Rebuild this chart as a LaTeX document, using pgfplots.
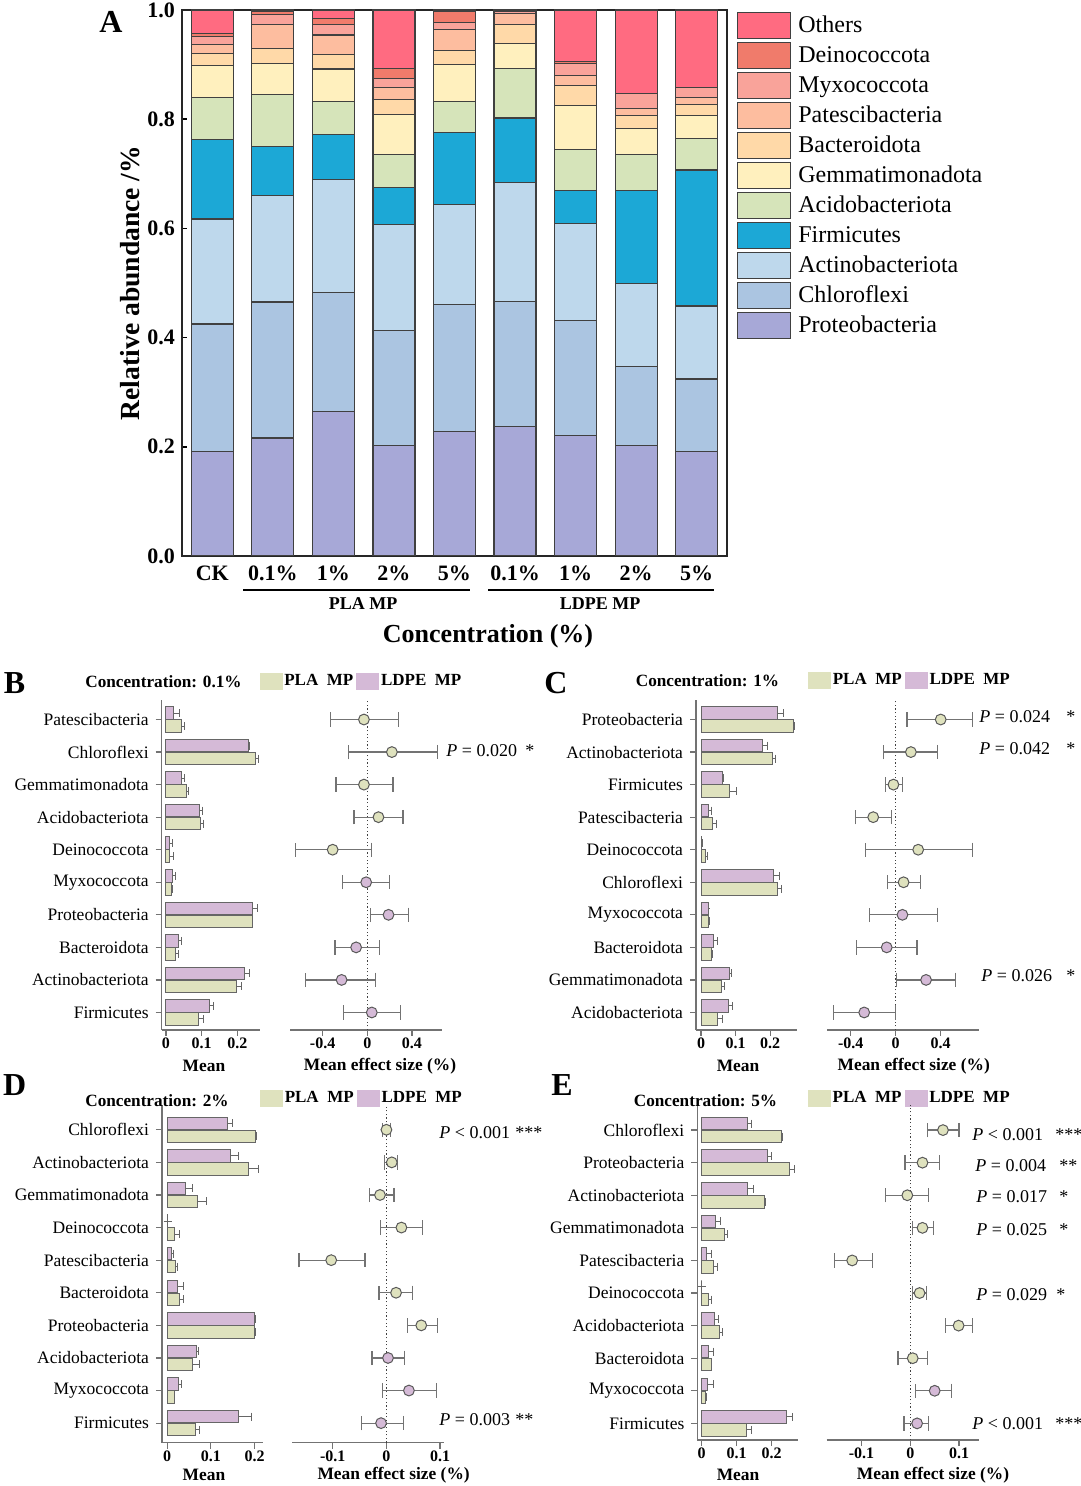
\documentclass[border=0pt]{standalone}
\usepackage{fontspec}
\setmainfont{Liberation Serif}
\usepackage{pgfplots}
\usepackage{pgfplotstable}
\pgfplotsset{compat=1.18}

\definecolor{cOth}{HTML}{FF6B81}
\definecolor{cDei}{HTML}{F07B6B}
\definecolor{cMyx}{HTML}{F9A39A}
\definecolor{cPat}{HTML}{FDBD9F}
\definecolor{cBac}{HTML}{FFD9A8}
\definecolor{cGem}{HTML}{FFF0BE}
\definecolor{cAci}{HTML}{D6E4BA}
\definecolor{cFir}{HTML}{1CA8D6}
\definecolor{cAct}{HTML}{BED8EC}
\definecolor{cChl}{HTML}{ABC5E1}
\definecolor{cPro}{HTML}{A7A8D7}
\definecolor{plaC}{HTML}{DFE2BE}
\definecolor{ldpeC}{HTML}{D5BAD7}

\newcommand{\fs}[1]{\fontsize{#1}{#1}\selectfont}

% ---------------- Panel A data ----------------
\pgfplotstableread{
x pro chl act fir aci gem bac pat myx dei oth
0 0.192 0.233 0.192 0.146 0.077 0.059 0.022 0.016 0.014 0.006 0.043
1 0.216 0.249 0.195 0.090 0.095 0.057 0.027 0.045 0.017 0.007 0.002
2 0.264 0.218 0.207 0.083 0.061 0.059 0.027 0.035 0.020 0.011 0.015
3 0.203 0.210 0.194 0.068 0.060 0.073 0.028 0.022 0.016 0.019 0.107
4 0.228 0.232 0.183 0.132 0.057 0.068 0.026 0.038 0.013 0.020 0.003
5 0.237 0.229 0.218 0.118 0.091 0.045 0.036 0.020 0.003 0.001 0.002
6 0.221 0.211 0.177 0.060 0.076 0.080 0.036 0.019 0.022 0.003 0.095
7 0.203 0.144 0.152 0.170 0.067 0.047 0.024 0.012 0.028 0.000 0.153
8 0.191 0.133 0.134 0.249 0.057 0.043 0.020 0.013 0.018 0.000 0.142
}\dataA

% ---------------- Panel B ----------------
\pgfplotstableread{
y pla pe ldpe le
9 0.043 0.010 0.020 0.017
8 0.251 0.009 0.232 0.003
7 0.056 0.008 0.043 0.010
6 0.096 0.009 0.093 0.010
5 0.010 0.010 0.010 0.009
4 0.016 0.002 0.018 0.010
3 0.241 0.001 0.241 0.014
2 0.028 0.006 0.034 0.010
1 0.198 0.014 0.220 0.015
0 0.091 0.014 0.121 0.012
}\Bbar
\pgfplotstableread{
x y em ep
-0.03 9 0.30 0.31
0.22 8 0.39 0.41
-0.03 7 0.25 0.26
0.10 6 0.22 0.22
-0.31 5 0.33 0.35
}\BeG
\pgfplotstableread{
x y em ep
-0.01 4 0.21 0.21
0.19 3 0.16 0.18
-0.10 2 0.19 0.21
-0.23 1 0.32 0.30
0.04 0 0.25 0.26
}\BeP

% ---------------- Panel C ----------------
\pgfplotstableread{
y pla pe ldpe le
9 0.268 0.004 0.221 0.017
8 0.206 0.011 0.179 0.012
7 0.083 0.020 0.063 0.002
6 0.032 0.012 0.022 0.007
5 0.012 0.006 0.002 0.001
4 0.220 0.013 0.211 0.016
3 0.021 0.004 0.022 0.001
2 0.029 0.003 0.035 0.013
1 0.060 0.008 0.081 0.007
0 0.049 0.014 0.079 0.011
}\Cbar
\pgfplotstableread{
x y em ep
0.40 9 0.30 0.28
0.135 8 0.245 0.24
-0.02 7 0.07 0.08
-0.20 6 0.16 0.16
0.20 5 0.47 0.48
0.07 4 0.14 0.15
}\CeG
\pgfplotstableread{
x y em ep
0.06 3 0.29 0.31
-0.08 2 0.27 0.27
0.27 1 0.26 0.26
-0.28 0 0.27 0.28
}\CeP

% ---------------- Panel D ----------------
\pgfplotstableread{
y pla pe ldpe le
9 0.202 0.002 0.138 0.012
8 0.187 0.023 0.146 0.017
7 0.069 0.021 0.043 0.014
6 0.017 0.012 0.001 0.000
5 0.020 0.004 0.010 0.005
4 0.028 0.009 0.024 0.013
3 0.201 0.002 0.199 0.002
2 0.058 0.016 0.067 0.005
1 0.016 0.001 0.025 0.008
0 0.066 0.007 0.164 0.029
}\Dbar
\pgfplotstableread{
x y em ep
0.000 9 0.008 0.008
0.010 8 0.013 0.011
-0.012 7 0.020 0.026
0.028 6 0.039 0.040
-0.103 5 0.060 0.063
0.018 4 0.032 0.031
0.065 3 0.026 0.030
}\DeG
\pgfplotstableread{
x y em ep
0.003 2 0.030 0.030
0.042 1 0.050 0.052
-0.010 0 0.036 0.042
}\DeP

% ---------------- Panel E ----------------
\pgfplotstableread{
y pla pe ldpe le
9 0.228 0.003 0.130 0.012
8 0.251 0.014 0.187 0.012
7 0.179 0.003 0.132 0.015
6 0.066 0.008 0.041 0.012
5 0.035 0.010 0.013 0.015
4 0.021 0.007 0.000 0.000
3 0.050 0.010 0.036 0.012
2 0.027 0.001 0.020 0.013
1 0.012 0.001 0.017 0.018
0 0.128 0.014 0.242 0.019
}\Ebar
\pgfplotstableread{
x y em ep
0.067 9 0.032 0.033
0.025 8 0.036 0.035
-0.006 7 0.044 0.043
0.025 6 0.020 0.022
-0.119 5 0.037 0.041
0.019 4 0.015 0.015
0.099 3 0.027 0.029
0.005 2 0.030 0.030
}\EeG
\pgfplotstableread{
x y em ep
0.050 1 0.039 0.035
0.014 0 0.027 0.024
}\EeP

\pgfplotsset{
  myleg/.style={legend image code/.code={\draw[##1,line width=0.5pt] (0pt,-6.5pt) rectangle (26.5pt,6.5pt);}},
  barax/.style={
    scale only axis, xbar, bar width=6.25pt,
    axis x line=bottom, axis y line=left,
    axis line style={-, draw=black!55, line width=0.6pt},
    tick style={draw=black!55, line width=0.6pt},
    tick align=outside, major tick length=3pt,
    ytick={0,...,9},
    xtick={0,0.1,0.2}, xticklabels={0,0.1,0.2},
    yticklabel style={font=\fs{8.75}},
    xticklabel style={font=\bfseries\fs{8}, yshift=2.5pt},
    clip=false,
    legend columns=2, legend cell align=left,
    legend style={draw=none, fill=none, inner sep=0pt, outer sep=0pt, anchor=west,
      font=\bfseries\fs{8.5}, nodes={inner sep=0pt},
      /tikz/every odd column/.style={column sep=1pt},
      /tikz/every even column/.style={column sep=1.5pt}},
  },
  effax/.style={
    scale only axis,
    axis x line=bottom, axis y line=none,
    axis line style={-, draw=black!55, line width=0.6pt},
    tick style={draw=black!55, line width=0.6pt},
    tick align=outside, major tick length=3pt,
    ytick=\empty,
    xticklabel style={font=\bfseries\fs{8}, yshift=2.5pt},
    clip=false,
  },
  plabar/.style={xbar, bar shift=-3.25pt, fill=plaC, draw=black!60, line width=0.5pt,
    error bars/.cd, x dir=plus, x explicit, error mark=|,
    error bar style={draw=black!60, line width=0.5pt},
    error mark options={draw=black!60, mark size=2pt, line width=0.5pt}},
  ldpebar/.style={xbar, bar shift=3.25pt, fill=ldpeC, draw=black!60, line width=0.5pt,
    error bars/.cd, x dir=plus, x explicit, error mark=|,
    error bar style={draw=black!60, line width=0.5pt},
    error mark options={draw=black!60, mark size=2pt, line width=0.5pt}},
  effpt/.style={only marks, mark=*, mark size=2.7pt,
    mark options={fill=#1, draw=black!65, line width=0.5pt},
    error bars/.cd, x dir=both, x explicit, error mark=|,
    error bar style={draw=black!55, line width=0.6pt},
    error mark options={draw=black!55, line width=0.6pt, mark size=3.6pt}},
  zeroline/.style={black!75, dash pattern=on 0.6pt off 1.2pt, line width=0.6pt, forget plot},
}

\newcommand{\legPLA}{%
  \addlegendimage{legend image code/.code={\fill[plaC] (0pt,-4pt) rectangle (11pt,4pt);}}
  \addlegendentry{PLA\hspace{0.5em}MP}
  \addlegendimage{legend image code/.code={\fill[ldpeC] (0pt,-4pt) rectangle (11pt,4pt);}}
  \addlegendentry{LDPE\hspace{0.5em}MP}}

\begin{document}
\begin{tikzpicture}
\useasboundingbox (0,0) rectangle (540pt,743pt);

% ================= Panel A =================
\begin{axis}[
  at={(91pt,465pt)}, anchor=south west,
  scale only axis, width=272.5pt, height=273pt,
  ybar stacked, bar width=21pt,
  xmin=-0.5, xmax=8.5, ymin=0, ymax=1,
  xtick={0,...,8}, xticklabels={CK,0.1\%,1\%,2\%,5\%,0.1\%,1\%,2\%,5\%},
  ytick={0,0.2,0.4,0.6,0.8,1.0}, yticklabels={0.0,0.2,0.4,0.6,0.8,1.0},
  x tick style={draw=none}, ytick pos=left, tick align=inside, major tick length=2.5pt,
  y tick style={black, line width=0.8pt},
  ticklabel style={font=\bfseries\fs{11}},
  xticklabel style={yshift=-1.5pt},
  axis line style={line width=1pt, black!85},
  every axis plot/.append style={draw=black!75, line width=0.6pt},
  reverse legend, legend cell align=left,
  legend style={at={(1,1)}, anchor=north west, xshift=5pt, yshift=-1pt,
    draw=none, fill=none, inner sep=0pt, font=\fs{12}, row sep=1.5pt,
    nodes={inner sep=0pt},
    /tikz/every odd column/.style={column sep=3.5pt}},
]
\addplot[fill=cPro, myleg] table[x=x,y=pro]{\dataA}; \addlegendentry{Proteobacteria}
\addplot[fill=cChl, myleg] table[x=x,y=chl]{\dataA}; \addlegendentry{Chloroflexi}
\addplot[fill=cAct, myleg] table[x=x,y=act]{\dataA}; \addlegendentry{Actinobacteriota}
\addplot[fill=cFir, myleg] table[x=x,y=fir]{\dataA}; \addlegendentry{Firmicutes}
\addplot[fill=cAci, myleg] table[x=x,y=aci]{\dataA}; \addlegendentry{Acidobacteriota}
\addplot[fill=cGem, myleg] table[x=x,y=gem]{\dataA}; \addlegendentry{Gemmatimonadota}
\addplot[fill=cBac, myleg] table[x=x,y=bac]{\dataA}; \addlegendentry{Bacteroidota}
\addplot[fill=cPat, myleg] table[x=x,y=pat]{\dataA}; \addlegendentry{Patescibacteria}
\addplot[fill=cMyx, myleg] table[x=x,y=myx]{\dataA}; \addlegendentry{Myxococcota}
\addplot[fill=cDei, myleg] table[x=x,y=dei]{\dataA}; \addlegendentry{Deinococcota}
\addplot[fill=cOth, myleg] table[x=x,y=oth]{\dataA}; \addlegendentry{Others}
\end{axis}

% ================= Panel B =================
\begin{axis}[barax, at={(80.85pt,228pt)}, anchor=south west,
  width=49.15pt, height=165pt, xmin=-0.012, xmax=0.263, ymin=-0.538, ymax=9.6,
  yticklabels={Firmicutes,Actinobacteriota,Bacteroidota,Proteobacteria,Myxococcota,Deinococcota,Acidobacteriota,Gemmatimonadota,Chloroflexi,Patescibacteria},
  legend style={at={(0.995,1.056)}}]
\legPLA
\addplot[plabar] table[x=pla,y=y,x error=pe]{\Bbar};
\addplot[ldpebar] table[x=ldpe,y=y,x error=le]{\Bbar};
\end{axis}
\begin{axis}[effax, at={(145pt,228pt)}, anchor=south west,
  width=75.85pt, height=165pt, xmin=-0.692, xmax=0.666, ymin=-0.538, ymax=9.6,
  xtick={-0.4,0,0.4}, xticklabels={-0.4,0,0.4}]
\addplot[zeroline] coordinates {(0,-0.538) (0,9.6)};
\addplot[effpt=plaC] table[x=x,y=y,x error minus=em,x error plus=ep]{\BeG};
\addplot[effpt=ldpeC] table[x=x,y=y,x error minus=em,x error plus=ep]{\BeP};
\end{axis}

% ================= Panel C =================
\begin{axis}[barax, at={(348pt,228pt)}, anchor=south west,
  width=50.35pt, height=165pt, xmin=-0.0145, xmax=0.277, ymin=-0.538, ymax=9.6,
  yticklabels={Acidobacteriota,Gemmatimonadota,Bacteroidota,Myxococcota,Chloroflexi,Deinococcota,Patescibacteria,Firmicutes,Actinobacteriota,Proteobacteria},
  legend style={at={(1.112,1.058)}}]
\legPLA
\addplot[plabar] table[x=pla,y=y,x error=pe]{\Cbar};
\addplot[ldpebar] table[x=ldpe,y=y,x error=le]{\Cbar};
\end{axis}
\begin{axis}[effax, at={(413.6pt,228pt)}, anchor=south west,
  width=75.8pt, height=165pt, xmin=-0.609, xmax=0.739, ymin=-0.538, ymax=9.6,
  xtick={-0.4,0,0.4}, xticklabels={-0.4,0,0.4}]
\addplot[zeroline] coordinates {(0,-0.538) (0,9.6)};
\addplot[effpt=plaC] table[x=x,y=y,x error minus=em,x error plus=ep]{\CeG};
\addplot[effpt=ldpeC] table[x=x,y=y,x error minus=em,x error plus=ep]{\CeP};
\end{axis}

% ================= Panel D =================
\begin{axis}[barax, at={(81pt,21.65pt)}, anchor=south west,
  width=50.5pt, height=168.85pt, xmin=-0.0117, xmax=0.2193, ymin=-0.60, ymax=9.76,
  yticklabels={Firmicutes,Myxococcota,Acidobacteriota,Proteobacteria,Bacteroidota,Patescibacteria,Deinococcota,Gemmatimonadota,Actinobacteriota,Chloroflexi},
  legend style={at={(0.97,1.02)}}]
\legPLA
\addplot[plabar] table[x=pla,y=y,x error=pe]{\Dbar};
\addplot[ldpebar] table[x=ldpe,y=y,x error=le]{\Dbar};
\end{axis}
\begin{axis}[effax, at={(146.2pt,21.65pt)}, anchor=south west,
  width=75.6pt, height=168.85pt, xmin=-0.1754, xmax=0.1067, ymin=-0.60, ymax=9.76,
  xtick={-0.1,0,0.1}, xticklabels={-0.1,0,0.1}]
\addplot[zeroline] coordinates {(0,-0.60) (0,9.76)};
\addplot[effpt=plaC] table[x=x,y=y,x error minus=em,x error plus=ep]{\DeG};
\addplot[effpt=ldpeC] table[x=x,y=y,x error minus=em,x error plus=ep]{\DeP};
\end{axis}

% ================= Panel E =================
\begin{axis}[barax, at={(348.7pt,23pt)}, anchor=south west,
  width=50.2pt, height=167.5pt, xmin=-0.012, xmax=0.275, ymin=-0.51, ymax=9.77,
  yticklabels={Firmicutes,Myxococcota,Bacteroidota,Acidobacteriota,Deinococcota,Patescibacteria,Gemmatimonadota,Actinobacteriota,Proteobacteria,Chloroflexi},
  legend style={at={(1.10,1.02)}}]
\legPLA
\addplot[plabar] table[x=pla,y=y,x error=pe]{\Ebar};
\addplot[ldpebar] table[x=ldpe,y=y,x error=le]{\Ebar};
\end{axis}
\begin{axis}[effax, at={(413.25pt,23pt)}, anchor=south west,
  width=76.15pt, height=167.5pt, xmin=-0.1716, xmax=0.1404, ymin=-0.51, ymax=9.77,
  xtick={-0.1,0,0.1}, xticklabels={-0.1,0,0.1}]
\addplot[zeroline] coordinates {(0,-0.51) (0,9.77)};
\addplot[effpt=plaC] table[x=x,y=y,x error minus=em,x error plus=ep]{\EeG};
\addplot[effpt=ldpeC] table[x=x,y=y,x error minus=em,x error plus=ep]{\EeP};
\end{axis}

% ================= Annotations (pixel coordinates) =================
\begin{scope}[x=0.5pt, y=-0.5pt, shift={(0pt,743pt)}]
\node[font=\bfseries\fs{16}] at (111,22) {A};
\node[font=\bfseries\fs{13.8}, rotate=90] at (130,283) {Relative abundance /\%};
\draw[line width=0.7pt] (243,590) -- (470,590);
\draw[line width=0.7pt] (488,590) -- (714,590);
\node[font=\bfseries\fs{9}] at (363,604) {PLA MP};
\node[font=\bfseries\fs{9}] at (600,604) {LDPE MP};
\node[font=\bfseries\fs{13}] at (488,636) {Concentration (\%)};

\node[font=\bfseries\fs{16}] at (14.5,683) {B};
\node[font=\bfseries\fs{16}] at (556,683) {C};
\node[font=\bfseries\fs{16}] at (14.7,1085) {D};
\node[font=\bfseries\fs{16}] at (562,1085) {E};
\node[font=\bfseries\fs{8.6}] at (163.5,681.5) {Concentration: 0.1\%};
\node[font=\bfseries\fs{8.6}] at (707.5,681) {Concentration: 1\%};
\node[font=\bfseries\fs{8.6}] at (157,1100.7) {Concentration: 2\%};
\node[font=\bfseries\fs{8.6}] at (705.5,1100.7) {Concentration: 5\%};

\node[font=\bfseries\fs{8.7}] at (204,1066) {Mean};
\node[font=\bfseries\fs{8.7}] at (380,1066) {Mean effect size (\%)};
\node[font=\bfseries\fs{8.7}] at (738,1066) {Mean};
\node[font=\bfseries\fs{8.7}] at (913.7,1066) {Mean effect size (\%)};
\node[font=\bfseries\fs{8.7}] at (204,1475) {Mean};
\node[font=\bfseries\fs{8.7}] at (393.6,1475) {Mean effect size (\%)};
\node[font=\bfseries\fs{8.7}] at (738,1475) {Mean};
\node[font=\bfseries\fs{8.7}] at (933,1475) {Mean effect size (\%)};

\tikzset{pv/.style={anchor=base west, inner sep=0pt, font=\fs{9}}}
% B
\node[pv] at (446,757) {\textit{P} = 0.020}; \node[pv] at (525,757) {*};
% C
\node[pv] at (979,723) {\textit{P} = 0.024}; \node[pv] at (1066,723) {*};
\node[pv] at (979,755) {\textit{P} = 0.042}; \node[pv] at (1066,755) {*};
\node[pv] at (981,982) {\textit{P} = 0.026}; \node[pv] at (1066,982) {*};
% D
\node[pv] at (439,1139) {\textit{P} < 0.001}; \node[pv] at (515,1139) {***};
\node[pv] at (439,1426) {\textit{P} = 0.003}; \node[pv] at (515,1426) {**};
% E
\node[pv] at (972,1141) {\textit{P} < 0.001}; \node[pv] at (1055,1141) {***};
\node[pv] at (975,1172) {\textit{P} = 0.004}; \node[pv] at (1059,1172) {**};
\node[pv] at (976,1203) {\textit{P} = 0.017}; \node[pv] at (1059,1203) {*};
\node[pv] at (976,1236) {\textit{P} = 0.025}; \node[pv] at (1059,1236) {*};
\node[pv] at (976,1301) {\textit{P} = 0.029}; \node[pv] at (1056,1301) {*};
\node[pv] at (972,1430) {\textit{P} < 0.001}; \node[pv] at (1055,1430) {***};
\end{scope}
\end{tikzpicture}
\end{document}
